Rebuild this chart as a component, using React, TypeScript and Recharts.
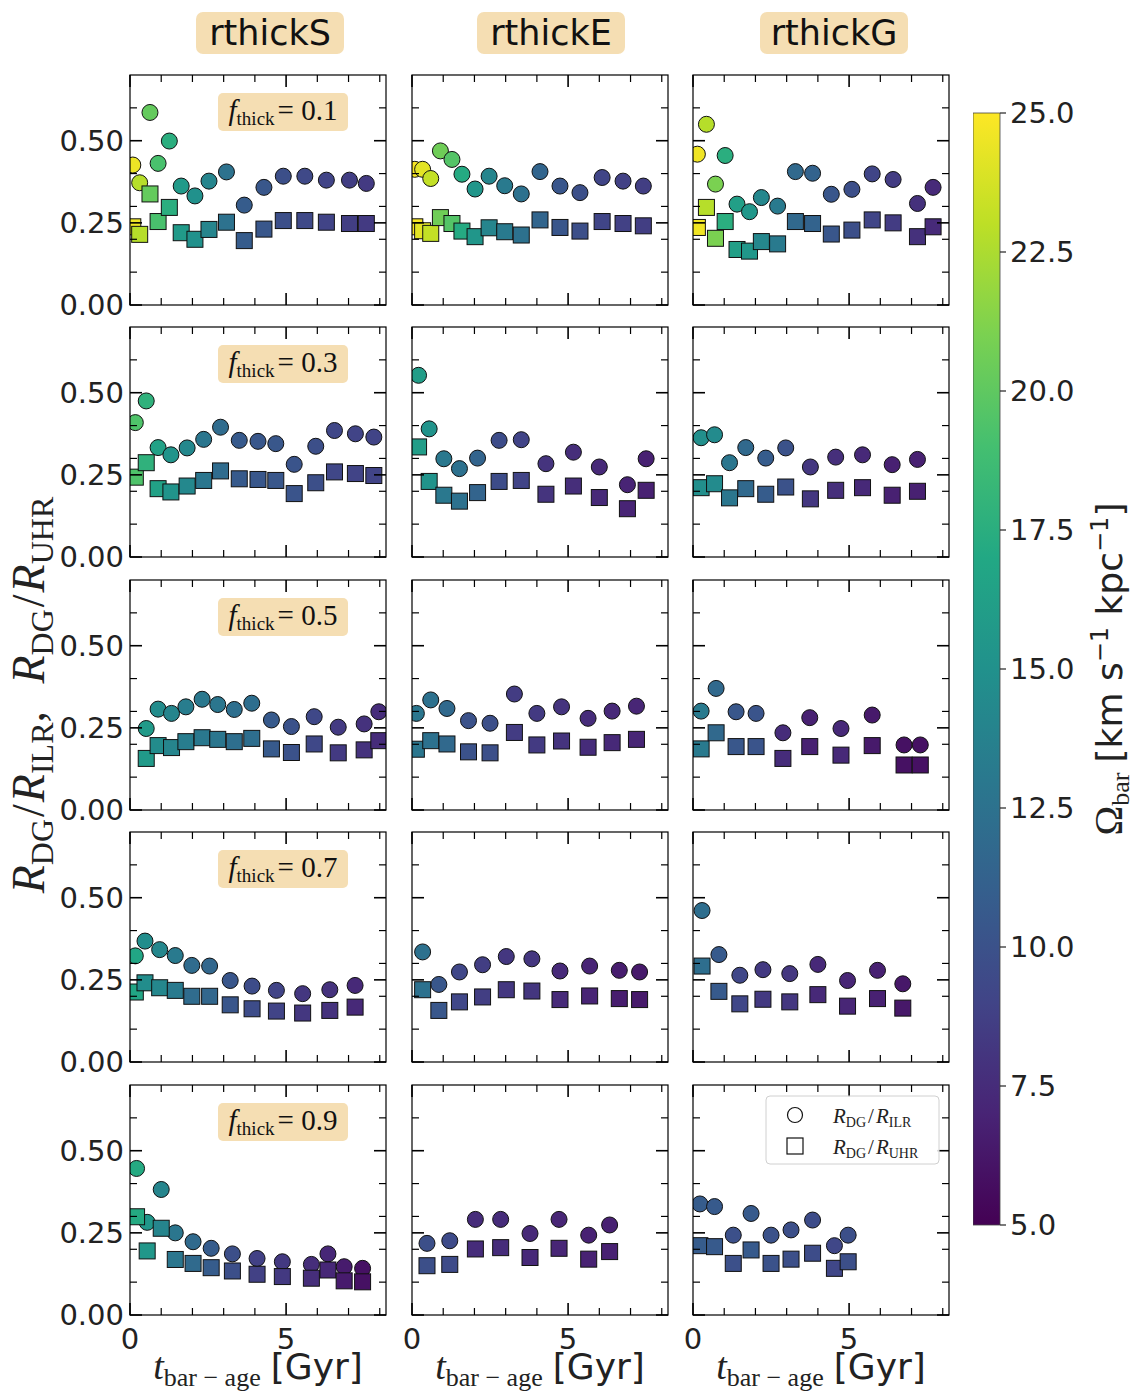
import React from 'react';
import { ScatterChart, Scatter, XAxis, YAxis, ReferenceArea } from 'recharts';

// ---- data: bar-age time [Gyr], pattern speed Omega_bar, R_DG/R_ILR, R_DG/R_UHR ----

// rthickS
const timeS01 = [0.09, 0.31, 0.64, 0.9, 1.26, 1.64, 2.08, 2.53, 3.09, 3.66, 4.29, 4.91, 5.6, 6.29, 7.03, 7.57];
const omegaS01 = [24.5, 22.8, 20.2, 19.2, 17.5, 15.8, 15, 14, 12.5, 10.8, 10.4, 9.8, 9.4, 9, 8.6, 8.4];
const ilrS01 = [0.426, 0.372, 0.586, 0.431, 0.499, 0.362, 0.332, 0.377, 0.405, 0.304, 0.358, 0.392, 0.392, 0.38, 0.38, 0.37];
const uhrS01 = [0.238, 0.215, 0.338, 0.254, 0.297, 0.22, 0.2, 0.23, 0.252, 0.196, 0.231, 0.257, 0.257, 0.252, 0.248, 0.248];

const timeS03 = [0.17, 0.52, 0.9, 1.31, 1.83, 2.36, 2.9, 3.5, 4.1, 4.67, 5.26, 5.95, 6.55, 7.22, 7.81];
const omegaS03 = [19.4, 17.8, 16.4, 15.3, 14.3, 12.8, 12, 10.6, 10.4, 10.4, 10.2, 9.8, 9.2, 9, 9];
const ilrS03 = [0.409, 0.475, 0.333, 0.311, 0.332, 0.358, 0.395, 0.355, 0.352, 0.345, 0.282, 0.337, 0.385, 0.375, 0.365];
const uhrS03 = [0.243, 0.287, 0.208, 0.198, 0.216, 0.233, 0.262, 0.238, 0.236, 0.233, 0.193, 0.226, 0.259, 0.254, 0.248];

const timeS05 = [0.52, 0.9, 1.33, 1.79, 2.31, 2.81, 3.34, 3.9, 4.53, 5.17, 5.9, 6.67, 7.5, 7.97];
const omegaS05 = [15.8, 14.6, 14, 13.4, 13, 12.8, 12.3, 12.2, 10.6, 10, 9.3, 8.4, 7.9, 7.5];
const ilrS05 = [0.248, 0.307, 0.294, 0.314, 0.337, 0.321, 0.306, 0.325, 0.274, 0.254, 0.284, 0.252, 0.262, 0.299];
const uhrS05 = [0.157, 0.196, 0.19, 0.208, 0.22, 0.215, 0.208, 0.218, 0.186, 0.175, 0.201, 0.174, 0.183, 0.211];

const timeS07 = [0.17, 0.48, 0.95, 1.45, 1.98, 2.55, 3.21, 3.91, 4.69, 5.53, 6.4, 7.21];
const omegaS07 = [16.8, 14.7, 14.2, 13.2, 12, 11.6, 10.3, 9.6, 9, 8.2, 7.9, 7.3];
const ilrS07 = [0.323, 0.368, 0.342, 0.324, 0.294, 0.292, 0.248, 0.231, 0.218, 0.208, 0.22, 0.233];
const uhrS07 = [0.213, 0.241, 0.226, 0.218, 0.2, 0.2, 0.174, 0.162, 0.155, 0.149, 0.157, 0.167];

const timeS09 = [0.21, 0.55, 1.0, 1.45, 2.02, 2.6, 3.28, 4.07, 4.88, 5.81, 6.34, 6.86, 7.45];
const omegaS09 = [17.2, 15.5, 14, 12.8, 11.9, 10.8, 9.8, 8.8, 8.3, 7.6, 7.2, 6.5, 5.9];
const ilrS09 = [0.446, 0.282, 0.382, 0.25, 0.223, 0.203, 0.186, 0.172, 0.162, 0.154, 0.186, 0.147, 0.142];
const uhrS09 = [0.299, 0.195, 0.264, 0.169, 0.157, 0.144, 0.134, 0.124, 0.117, 0.112, 0.137, 0.104, 0.101];

// rthickE
const timeE01 = [0.09, 0.34, 0.6, 0.91, 1.28, 1.6, 2.02, 2.47, 2.97, 3.5, 4.1, 4.74, 5.38, 6.09, 6.76, 7.41];
const omegaE01 = [24.8, 24.2, 23.2, 20.6, 19.6, 17.2, 15.4, 14, 13.2, 12.4, 11.5, 10.3, 9.8, 9.1, 8.8, 8.6];
const ilrE01 = [0.413, 0.413, 0.385, 0.469, 0.443, 0.398, 0.353, 0.392, 0.363, 0.338, 0.406, 0.362, 0.342, 0.388, 0.377, 0.362];
const uhrE01 = [0.238, 0.226, 0.218, 0.266, 0.248, 0.225, 0.208, 0.235, 0.223, 0.213, 0.259, 0.236, 0.225, 0.254, 0.248, 0.241];

const timeE03 = [0.21, 0.55, 1.02, 1.52, 2.1, 2.79, 3.5, 4.29, 5.17, 6.0, 6.9, 7.5];
const omegaE03 = [16, 15.2, 13, 12.4, 11.4, 9.6, 9, 8, 7.6, 7.3, 7, 6.8];
const ilrE03 = [0.553, 0.39, 0.299, 0.269, 0.301, 0.355, 0.357, 0.284, 0.319, 0.274, 0.22, 0.299];
const uhrE03 = [0.335, 0.23, 0.188, 0.17, 0.196, 0.23, 0.233, 0.191, 0.216, 0.181, 0.147, 0.203];

const timeE05 = [0.14, 0.6, 1.12, 1.81, 2.5, 3.28, 4.0, 4.79, 5.64, 6.41, 7.19];
const omegaE05 = [12.8, 12.4, 11.8, 10, 9.8, 8.5, 8.4, 8, 7.5, 7.3, 7.1];
const ilrE05 = [0.294, 0.335, 0.309, 0.272, 0.264, 0.353, 0.294, 0.314, 0.279, 0.301, 0.316];
const uhrE05 = [0.185, 0.211, 0.201, 0.177, 0.174, 0.236, 0.198, 0.21, 0.191, 0.205, 0.215];

const timeE07 = [0.34, 0.86, 1.52, 2.26, 3.02, 3.84, 4.74, 5.69, 6.64, 7.29];
const omegaE07 = [12.4, 10.4, 9.2, 8.6, 8.2, 8.1, 7.4, 7, 6.6, 6.4];
const ilrE07 = [0.335, 0.236, 0.274, 0.296, 0.321, 0.314, 0.277, 0.292, 0.279, 0.274];
const uhrE07 = [0.22, 0.157, 0.183, 0.198, 0.22, 0.216, 0.19, 0.201, 0.193, 0.19];

const timeE09 = [0.48, 1.21, 2.03, 2.84, 3.78, 4.71, 5.66, 6.33];
const omegaE09 = [9.8, 9.5, 7.5, 7.5, 7.3, 7.1, 6.9, 6.8];
const ilrE09 = [0.218, 0.226, 0.291, 0.291, 0.248, 0.291, 0.243, 0.274];
const uhrE09 = [0.15, 0.154, 0.201, 0.205, 0.175, 0.203, 0.17, 0.193];

// rthickG
const timeG01 = [0.14, 0.43, 0.72, 1.03, 1.41, 1.81, 2.19, 2.71, 3.28, 3.83, 4.43, 5.09, 5.74, 6.41, 7.19, 7.69];
const omegaG01 = [24.6, 22.8, 21, 17.5, 16.2, 15.5, 14.2, 13.2, 11.8, 11.3, 10.3, 9.8, 9.1, 8.5, 7.8, 7.4];
const ilrG01 = [0.459, 0.55, 0.368, 0.455, 0.307, 0.284, 0.327, 0.301, 0.406, 0.401, 0.337, 0.352, 0.399, 0.382, 0.309, 0.358];
const uhrG01 = [0.236, 0.297, 0.203, 0.254, 0.169, 0.164, 0.193, 0.186, 0.254, 0.248, 0.216, 0.228, 0.259, 0.25, 0.208, 0.238];

const timeG03 = [0.26, 0.69, 1.17, 1.69, 2.33, 2.97, 3.76, 4.57, 5.43, 6.38, 7.19];
const omegaG03 = [14.8, 14.5, 12.8, 11.8, 10.8, 10, 8.2, 7.7, 7.3, 6.8, 6.8];
const ilrG03 = [0.363, 0.372, 0.287, 0.333, 0.301, 0.332, 0.274, 0.304, 0.311, 0.281, 0.297];
const uhrG03 = [0.211, 0.223, 0.18, 0.208, 0.191, 0.213, 0.177, 0.203, 0.211, 0.188, 0.2];

const timeG05 = [0.26, 0.74, 1.38, 2.02, 2.88, 3.74, 4.74, 5.74, 6.76, 7.28];
const omegaG05 = [13.2, 11.8, 10.4, 10.2, 7.5, 6.8, 7.3, 6.4, 5.9, 5.9];
const ilrG05 = [0.301, 0.37, 0.299, 0.294, 0.235, 0.281, 0.248, 0.289, 0.198, 0.198];
const uhrG05 = [0.186, 0.235, 0.193, 0.193, 0.157, 0.193, 0.167, 0.196, 0.137, 0.137];

const timeG07 = [0.29, 0.83, 1.5, 2.24, 3.1, 4.0, 4.95, 5.91, 6.72];
const omegaG07 = [12.2, 10.6, 9.2, 8.3, 8.2, 7.3, 7.1, 6.8, 6.3];
const ilrG07 = [0.461, 0.327, 0.264, 0.281, 0.269, 0.297, 0.248, 0.279, 0.238];
const uhrG07 = [0.292, 0.215, 0.177, 0.191, 0.183, 0.205, 0.17, 0.193, 0.164];

const timeG09 = [0.22, 0.69, 1.29, 1.86, 2.5, 3.14, 3.83, 4.53, 4.97];
const omegaG09 = [10.8, 10.6, 9.9, 10.6, 10, 9.8, 9.6, 9.2, 9.8];
const ilrG09 = [0.338, 0.33, 0.243, 0.309, 0.243, 0.259, 0.289, 0.211, 0.243];
const uhrG09 = [0.211, 0.208, 0.157, 0.198, 0.157, 0.17, 0.188, 0.142, 0.162];

const models = ['rthickS', 'rthickE', 'rthickG'];
const fThick = ['0.1', '0.3', '0.5', '0.7', '0.9'];
const xTicks = [0, 1, 2, 3, 4, 5, 6, 7, 8];
const yTicks = [0, 0.1, 0.2, 0.25, 0.3, 0.4, 0.5, 0.6];
const yMajor = [0, 0.25, 0.5];
const cbarTicks = [5, 7.5, 10, 12.5, 15, 17.5, 20, 22.5, 25];

// [row][col] -> [time, omega, ilr, uhr]
const grid = [
  [[timeS01, omegaS01, ilrS01, uhrS01], [timeE01, omegaE01, ilrE01, uhrE01], [timeG01, omegaG01, ilrG01, uhrG01]],
  [[timeS03, omegaS03, ilrS03, uhrS03], [timeE03, omegaE03, ilrE03, uhrE03], [timeG03, omegaG03, ilrG03, uhrG03]],
  [[timeS05, omegaS05, ilrS05, uhrS05], [timeE05, omegaE05, ilrE05, uhrE05], [timeG05, omegaG05, ilrG05, uhrG05]],
  [[timeS07, omegaS07, ilrS07, uhrS07], [timeE07, omegaE07, ilrE07, uhrE07], [timeG07, omegaG07, ilrG07, uhrG07]],
  [[timeS09, omegaS09, ilrS09, uhrS09], [timeE09, omegaE09, ilrE09, uhrE09], [timeG09, omegaG09, ilrG09, uhrG09]],
];

// ---- layout ----
const PW = 256;
const PH = 230;
const COL_X = [130, 412, 693];
const ROW_Y = [75, 327, 580, 832, 1085];
const OFF_L = 80; // margin.left + YAxis width
const OFF_T = 10;
const CB = { x: 973, y: 113, w: 27, h: 1112 };
const SANS = 'DejaVu Sans';
const SERIF = 'Liberation Serif';
const WHEAT = '#f5deb3';

// viridis colour map on [5, 25]
const VIRIDIS = ['#440154', '#482475', '#414487', '#355f8d', '#2a788e', '#21918c', '#22a884', '#44bf70', '#7ad151', '#bddf26', '#fde725'];
const hexRgb = (h: string) => [1, 3, 5].map((i) => parseInt(h.slice(i, i + 2), 16));
function viridis(omega: number) {
  const t = Math.min(1, Math.max(0, (omega - 5) / 20));
  const s = t * (VIRIDIS.length - 1);
  const i = Math.min(Math.floor(s), VIRIDIS.length - 2);
  const f = s - i;
  const a = hexRgb(VIRIDIS[i]);
  const b = hexRgb(VIRIDIS[i + 1]);
  const c = a.map((v, k) => Math.round(v + (b[k] - v) * f));
  return `rgb(${c[0]},${c[1]},${c[2]})`;
}

const CircleMark = (p: any) => {
  if (p.cx == null || p.cy == null) return null;
  return <circle cx={p.cx} cy={p.cy} r={8} fill={viridis(p.payload.omega)} stroke="#111" strokeWidth={1} />;
};

const SquareMark = (p: any) => {
  if (p.cx == null || p.cy == null) return null;
  return <rect x={p.cx - 8} y={p.cy - 8} width={16} height={16} fill={viridis(p.payload.omega)} stroke="#111" strokeWidth={1} />;
};

// inward ticks on bottom and top, labels only on the bottom row
const makeXTick = (labels: boolean) => (props: any) => {
  const { x, y, payload } = props;
  const major = payload.value % 5 === 0;
  const len = major ? 12 : 7;
  const sw = major ? 1.6 : 1.2;
  return (
    <g>
      <line x1={x} y1={y} x2={x} y2={y - len} stroke="#000" strokeWidth={sw} />
      <line x1={x} y1={y - PH} x2={x} y2={y - PH + len} stroke="#000" strokeWidth={sw} />
      {labels && major && (
        <text x={x} y={y + 34} textAnchor="middle" fontSize={29} fontFamily={SANS} fill="#222">
          {payload.value}
        </text>
      )}
    </g>
  );
};

// inward ticks on left and right, labels only on the left column
const makeYTick = (labels: boolean) => (props: any) => {
  const { x, y, payload } = props;
  const major = yMajor.includes(payload.value);
  const len = major ? 12 : 7;
  const sw = major ? 1.6 : 1.2;
  return (
    <g>
      <line x1={x} y1={y} x2={x + len} y2={y} stroke="#000" strokeWidth={sw} />
      <line x1={x + PW} y1={y} x2={x + PW - len} y2={y} stroke="#000" strokeWidth={sw} />
      {labels && major && (
        <text x={x - 6} y={y} dy="0.36em" textAnchor="end" fontSize={29} fontFamily={SANS} fill="#222">
          {payload.value.toFixed(2)}
        </text>
      )}
    </g>
  );
};

const CbarTick = (props: any) => {
  const { x, y, payload } = props;
  return (
    <g>
      <line x1={x} y1={y} x2={x + 6} y2={y} stroke="#222" strokeWidth={1.2} />
      <text x={x + 10} y={y} dy="0.36em" textAnchor="start" fontSize={29} fontFamily={SANS} fill="#222">
        {payload.value.toFixed(1)}
      </text>
    </g>
  );
};

function Panel({ row, col }: { row: number; col: number }) {
  const [time, omega, ilr, uhr] = grid[row][col];
  const circles = time.map((t, i) => ({ x: t, y: ilr[i], omega: omega[i] }));
  const squares = time.map((t, i) => ({ x: t, y: uhr[i], omega: omega[i] }));
  return (
    <div style={{ position: 'absolute', left: COL_X[col] - OFF_L, top: ROW_Y[row] - OFF_T }}>
      <ScatterChart width={OFF_L + PW + 10} height={OFF_T + PH + 50} margin={{ top: OFF_T, right: 10, bottom: 20, left: 20 }}>
        <XAxis
          dataKey="x"
          type="number"
          domain={[0, 8.2]}
          ticks={xTicks}
          interval={0}
          allowDataOverflow
          height={30}
          tickSize={0}
          tickMargin={0}
          axisLine={false}
          tickLine={false}
          tick={makeXTick(row === 4)}
        />
        <YAxis
          dataKey="y"
          type="number"
          domain={[0, 0.7]}
          ticks={yTicks}
          interval={0}
          allowDataOverflow
          width={60}
          tickSize={0}
          tickMargin={0}
          axisLine={false}
          tickLine={false}
          tick={makeYTick(col === 0)}
        />
        <Scatter data={circles} shape={CircleMark} isAnimationActive={false} />
        <Scatter data={squares} shape={SquareMark} isAnimationActive={false} />
      </ScatterChart>
    </div>
  );
}

function Colorbar() {
  return (
    <div style={{ position: 'absolute', left: CB.x, top: CB.y - 20 }}>
      <ScatterChart width={CB.w + 110} height={CB.h + 40} margin={{ top: 20, right: 0, bottom: 20, left: 0 }}>
        <XAxis type="number" dataKey="x" domain={[0, 1]} allowDataOverflow hide />
        <YAxis
          type="number"
          dataKey="y"
          orientation="right"
          domain={[5, 25]}
          ticks={cbarTicks}
          interval={0}
          allowDataOverflow
          width={110}
          tickSize={0}
          tickMargin={0}
          axisLine={false}
          tickLine={false}
          tick={CbarTick}
        />
        <ReferenceArea x1={0} x2={1} y1={5} y2={25} fill="url(#viridisRamp)" fillOpacity={1} stroke="#444" strokeWidth={0.8} ifOverflow="visible" />
      </ScatterChart>
    </div>
  );
}

// R_DG / R_xxx in math-style serif; ends on the subscript baseline
function Ratio({ sub, size, subSize, shift }: { sub: string; size: number; subSize: number; shift: number }) {
  return (
    <>
      <tspan fontStyle="italic" fontSize={size}>R</tspan>
      <tspan fontSize={subSize} dy={shift}>DG</tspan>
      <tspan fontSize={size} dy={-shift} dx={2}>/</tspan>
      <tspan fontStyle="italic" fontSize={size} dx={2}>R</tspan>
      <tspan fontSize={subSize} dy={shift}>{sub}</tspan>
    </>
  );
}

function Overlay() {
  return (
    <svg width={1137} height={1396} style={{ position: 'absolute', left: 0, top: 0, pointerEvents: 'none' }}>
      {/* panel frames */}
      {ROW_Y.map((ry) =>
        COL_X.map((cx) => (
          <rect key={`${cx}-${ry}`} x={cx} y={ry} width={PW} height={PH} fill="none" stroke="#000" strokeWidth={1.2} />
        ))
      )}

      {/* column titles */}
      {models.map((m, i) => {
        const cx = [270, 551, 834][i];
        return (
          <g key={m}>
            <rect x={cx - 74} y={12} width={148} height={42} rx={7} fill={WHEAT} />
            <text x={cx} y={45} textAnchor="middle" fontSize={35} fontFamily={SANS} fill="#111">
              {m}
            </text>
          </g>
        );
      })}

      {/* f_thick boxes */}
      {fThick.map((f, r) => {
        const bx = COL_X[0] + 88;
        const by = ROW_Y[r] + 18;
        return (
          <g key={f}>
            <rect x={bx} y={by} width={130} height={38} rx={5} fill={WHEAT} />
            <text x={bx + 65} y={by + 27} textAnchor="middle" fontFamily={SERIF} fill="#111">
              <tspan fontStyle="italic" fontSize={29}>f</tspan>
              <tspan fontSize={19} dy={5}>thick</tspan>
              <tspan fontSize={29} dy={-5} dx={3}>= {f}</tspan>
            </text>
          </g>
        );
      })}

      {/* y label */}
      <text transform="translate(44,695) rotate(-90)" textAnchor="middle" fontFamily={SERIF} fill="#222">
        <Ratio sub="ILR" size={46} subSize={32} shift={9} />
        <tspan fontSize={46} dy={-9}>,</tspan>
        <tspan fontSize={46} dx={16}>{' '}</tspan>
        <Ratio sub="UHR" size={46} subSize={32} shift={9} />
      </text>

      {/* x labels */}
      {COL_X.map((cx) => (
        <text key={cx} x={cx + PW / 2} y={1379} textAnchor="middle" fill="#222">
          <tspan fontFamily={SERIF} fontStyle="italic" fontSize={38}>t</tspan>
          <tspan fontFamily={SERIF} fontSize={26} dy={7}>bar − age</tspan>
          <tspan fontFamily={SANS} fontSize={36} dy={-7} dx={10}>[Gyr]</tspan>
        </text>
      ))}

      {/* legend */}
      <rect x={766} y={1096} width={173} height={68} rx={4} fill="#fff" fillOpacity={0.85} stroke="#d0d0d0" strokeWidth={1} />
      <circle cx={795} cy={1115} r={7.5} fill="none" stroke="#111" strokeWidth={1.2} />
      <rect x={787} y={1138} width={16} height={16} fill="none" stroke="#111" strokeWidth={1.2} />
      <text x={833} y={1123} fontFamily={SERIF} fill="#222">
        <Ratio sub="ILR" size={21} subSize={14} shift={4} />
      </text>
      <text x={833} y={1154} fontFamily={SERIF} fill="#222">
        <Ratio sub="UHR" size={21} subSize={14} shift={4} />
      </text>

      {/* colorbar label */}
      <text transform={`translate(1122,${CB.y + CB.h / 2}) rotate(-90)`} textAnchor="middle" fill="#222">
        <tspan fontFamily={SERIF} fontSize={40}>Ω</tspan>
        <tspan fontFamily={SERIF} fontSize={26} dy={7}>bar</tspan>
        <tspan fontFamily={SANS} fontSize={36} dy={-7} dx={10}>[km s</tspan>
        <tspan fontFamily={SANS} fontSize={24} dy={-14}>−1</tspan>
        <tspan fontFamily={SANS} fontSize={36} dy={14}> kpc</tspan>
        <tspan fontFamily={SANS} fontSize={24} dy={-14}>−1</tspan>
        <tspan fontFamily={SANS} fontSize={36} dy={14}>]</tspan>
      </text>
    </svg>
  );
}

export default function App() {
  return (
    <div style={{ position: 'absolute', left: 0, top: 0, width: 1137, height: 1396, background: '#fff', overflow: 'hidden' }}>
      <svg width={0} height={0} style={{ position: 'absolute' }}>
        <defs>
          <linearGradient id="viridisRamp" x1="0" y1="1" x2="0" y2="0">
            {VIRIDIS.map((c, i) => (
              <stop key={c} offset={i / (VIRIDIS.length - 1)} stopColor={c} />
            ))}
          </linearGradient>
        </defs>
      </svg>
      {grid.map((rowPanels, r) => rowPanels.map((_, c) => <Panel key={`${r}-${c}`} row={r} col={c} />))}
      <Colorbar />
      <Overlay />
    </div>
  );
}
